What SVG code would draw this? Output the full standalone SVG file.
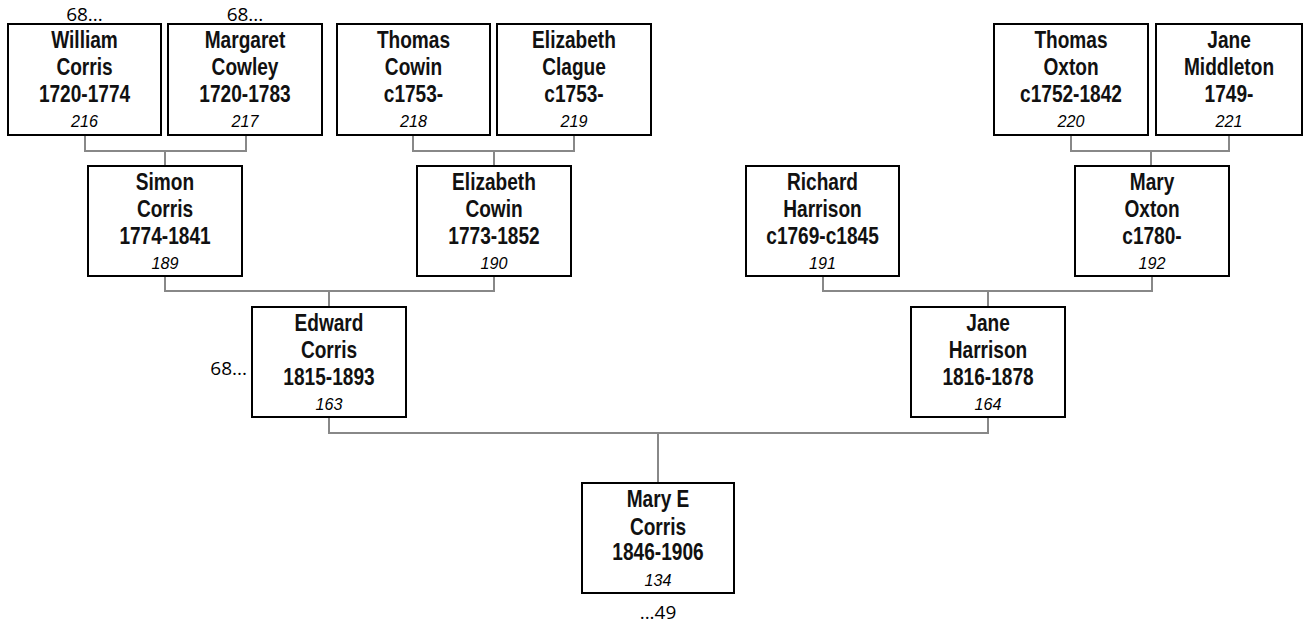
<svg xmlns="http://www.w3.org/2000/svg" width="1304" height="626" viewBox="0 0 1304 626">
<style>
.box{fill:#fff;stroke:#000;stroke-width:2}
.n{font-family:"Liberation Sans",Arial,sans-serif;font-weight:bold;font-size:23px;text-anchor:middle;fill:#111;transform-box:fill-box;transform-origin:center;transform:scaleX(0.83)}
.id{font-family:"Liberation Sans",Arial,sans-serif;font-style:italic;font-size:17px;text-anchor:middle;fill:#000;transform-box:fill-box;transform-origin:center;transform:scaleX(0.95)}
.lk{font-family:"Open Sans","Liberation Sans",sans-serif;font-size:19px;fill:#000}
.c{fill:none;stroke:#888;stroke-width:2}
</style>
<rect width="1304" height="626" fill="#fff"/>
<g id="connectors">
<path class="c" d="M85 135V151H246V135M165 151V166"/>
<path class="c" d="M413 135V151H574V135M494 151V166"/>
<path class="c" d="M1071 135V151H1229V135M1151 151V166"/>
<path class="c" d="M165 276V291H494V276M329 291V307"/>
<path class="c" d="M823 276V291H1152V276M988 291V307"/>
<path class="c" d="M329 417V433H988V417M658 433V483"/>
</g>
<g id="william">
<rect class="box" x="8" y="24" width="153" height="111"/>
<text class="n" x="84.5" y="48">William</text><text class="n" x="84.5" y="75">Corris</text><text class="n" x="84.5" y="102">1720-1774</text><text class="id" x="84.5" y="127">216</text>
<text class="lk" x="84.5" y="21" text-anchor="middle">68...</text>
</g>
<g id="margaret">
<rect class="box" x="168" y="24" width="154" height="111"/>
<text class="n" x="245" y="48">Margaret</text><text class="n" x="245" y="75">Cowley</text><text class="n" x="245" y="102">1720-1783</text><text class="id" x="245" y="127">217</text>
<text class="lk" x="245" y="21" text-anchor="middle">68...</text>
</g>
<g id="thomas-cowin">
<rect class="box" x="337" y="24" width="153" height="111"/>
<text class="n" x="413.5" y="48">Thomas</text><text class="n" x="413.5" y="75">Cowin</text><text class="n" x="413.5" y="102">c1753-</text><text class="id" x="413.5" y="127">218</text>
</g>
<g id="elizabeth-clague">
<rect class="box" x="497" y="24" width="154" height="111"/>
<text class="n" x="574" y="48">Elizabeth</text><text class="n" x="574" y="75">Clague</text><text class="n" x="574" y="102">c1753-</text><text class="id" x="574" y="127">219</text>
</g>
<g id="thomas-oxton">
<rect class="box" x="994" y="24" width="154" height="111"/>
<text class="n" x="1071" y="48">Thomas</text><text class="n" x="1071" y="75">Oxton</text><text class="n" x="1071" y="102">c1752-1842</text><text class="id" x="1071" y="127">220</text>
</g>
<g id="jane-middleton">
<rect class="box" x="1156" y="24" width="146" height="111"/>
<text class="n" x="1229" y="48">Jane</text><text class="n" x="1229" y="75">Middleton</text><text class="n" x="1229" y="102">1749-</text><text class="id" x="1229" y="127">221</text>
</g>
<g id="simon">
<rect class="box" x="88" y="166" width="154" height="110"/>
<text class="n" x="165" y="190">Simon</text><text class="n" x="165" y="217">Corris</text><text class="n" x="165" y="244">1774-1841</text><text class="id" x="165" y="269">189</text>
</g>
<g id="elizabeth-cowin">
<rect class="box" x="417" y="166" width="154" height="110"/>
<text class="n" x="494" y="190">Elizabeth</text><text class="n" x="494" y="217">Cowin</text><text class="n" x="494" y="244">1773-1852</text><text class="id" x="494" y="269">190</text>
</g>
<g id="richard">
<rect class="box" x="746" y="166" width="153" height="110"/>
<text class="n" x="822.5" y="190">Richard</text><text class="n" x="822.5" y="217">Harrison</text><text class="n" x="822.5" y="244">c1769-c1845</text><text class="id" x="822.5" y="269">191</text>
</g>
<g id="mary-oxton">
<rect class="box" x="1075" y="166" width="154" height="110"/>
<text class="n" x="1152" y="190">Mary</text><text class="n" x="1152" y="217">Oxton</text><text class="n" x="1152" y="244">c1780-</text><text class="id" x="1152" y="269">192</text>
</g>
<g id="edward">
<rect class="box" x="252" y="307" width="154" height="110"/>
<text class="n" x="329" y="331">Edward</text><text class="n" x="329" y="358">Corris</text><text class="n" x="329" y="385">1815-1893</text><text class="id" x="329" y="410">163</text>
<text class="lk" x="247" y="375" text-anchor="end">68...</text>
</g>
<g id="jane-harrison">
<rect class="box" x="911" y="307" width="154" height="110"/>
<text class="n" x="988" y="331">Jane</text><text class="n" x="988" y="358">Harrison</text><text class="n" x="988" y="385">1816-1878</text><text class="id" x="988" y="410">164</text>
</g>
<g id="mary-e">
<rect class="box" x="582" y="483" width="152" height="110"/>
<text class="n" x="658" y="507">Mary E</text><text class="n" x="658" y="535">Corris</text><text class="n" x="658" y="560">1846-1906</text><text class="id" x="658" y="586">134</text>
<text class="lk" x="658" y="619" text-anchor="middle">...49</text>
</g>
</svg>
